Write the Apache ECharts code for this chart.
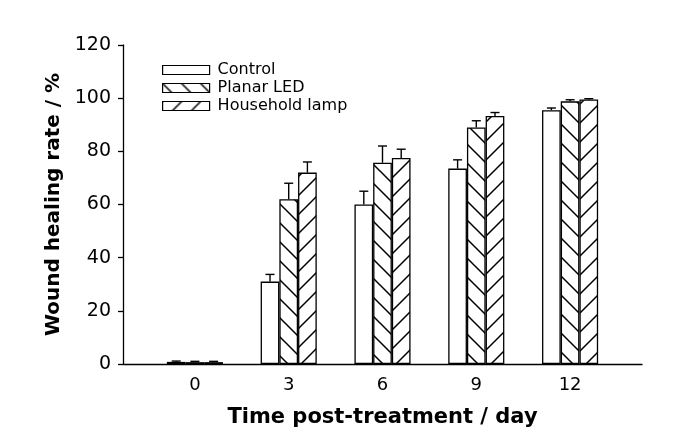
<!DOCTYPE html>
<html>
<head>
<meta charset="utf-8">
<script src="https://cdn.jsdelivr.net/npm/echarts@6/dist/echarts.min.js"></script>
<style>html,body{margin:0;padding:0;background:#fff}#c{width:679px;height:444px}</style>
</head>
<body>
<div id="c"></div>
<script>
var days = [0, 3, 6, 9, 12];
var seriesNames = ['Control', 'Planar LED', 'Household lamp'];
var control = [0.8, 31, 60, 73.5, 95.5];
var controlErr = [0.3, 2.7, 5, 3.3, 0.8];
var planar = [0.7, 62, 75.7, 89, 98.8];
var planarErr = [0.3, 6, 6.3, 2.5, 0.6];
var household = [0.7, 72, 77.5, 93.3, 99.5];
var householdErr = [0.3, 4, 3.3, 1.3, 0.3];
var yTicks = [0, 20, 40, 60, 80, 100, 120];

var FONT = 'DejaVu Sans';
var BW = 18.7;
var chart = echarts.init(document.getElementById('c'), null, {renderer: 'canvas'});

function pairs(vals) { return days.map(function (d, i) { return [d, vals[i]]; }); }
function errPairs(vals, errs) { return days.map(function (d, i) { return [d, vals[i], errs[i]]; }); }

function hatch(back) {
  var s = 19;
  var cv = document.createElement('canvas');
  cv.width = s; cv.height = s;
  var ctx = cv.getContext('2d');
  ctx.fillStyle = '#fff';
  ctx.fillRect(0, 0, s, s);
  ctx.strokeStyle = '#000';
  ctx.lineWidth = 1.5;
  ctx.beginPath();
  if (back) {
    ctx.moveTo(-2, -2); ctx.lineTo(s + 2, s + 2);
    ctx.moveTo(s - 2, -2); ctx.lineTo(s + 2, 2);
    ctx.moveTo(-2, s - 2); ctx.lineTo(2, s + 2);
  } else {
    ctx.moveTo(-2, s + 2); ctx.lineTo(s + 2, -2);
    ctx.moveTo(-2, 2); ctx.lineTo(2, -2);
    ctx.moveTo(s - 2, s + 2); ctx.lineTo(s + 2, s - 2);
  }
  ctx.stroke();
  return {image: cv, repeat: 'repeat'};
}

function barSeries(name, vals, fill) {
  return {
    name: name, type: 'bar', data: pairs(vals), barWidth: BW, barGap: '0%',
    itemStyle: {color: fill, borderColor: '#000', borderWidth: 1.3},
    emphasis: {disabled: true}, z: 2
  };
}

function errSeries(vals, errs, idx) {
  return {
    type: 'custom', data: errPairs(vals, errs), z: 3, silent: true,
    renderItem: function (params, api) {
      var x = api.value(0), y = api.value(1), e = api.value(2);
      var p0 = api.coord([x, y]);
      var p1 = api.coord([x, y + e]);
      var cx = p0[0] + (idx - 1) * BW;
      var hw = 4.5;
      return {
        type: 'group',
        children: [
          {type: 'line', shape: {x1: cx, y1: p0[1], x2: cx, y2: p1[1]}, style: {stroke: '#000', lineWidth: 1.4}},
          {type: 'line', shape: {x1: cx - hw, y1: p1[1], x2: cx + hw, y2: p1[1]}, style: {stroke: '#000', lineWidth: 1.4}}
        ]
      };
    }
  };
}

chart.setOption({
  animation: false,
  backgroundColor: '#fff',
  grid: {left: 123, right: 37, top: 45, bottom: 80, containLabel: false},
  legend: {
    orient: 'vertical', left: 157, top: 57,
    itemWidth: 47, itemHeight: 9, itemGap: 2, icon: 'rect',
    data: seriesNames,
    itemStyle: {borderColor: '#000', borderWidth: 1.2},
    textStyle: {fontFamily: FONT, fontSize: 16, color: '#000', padding: [0, 0, 0, 3]}
  },
  xAxis: {
    type: 'value', min: -2.3, max: 14.3,
    name: 'Time post-treatment / day', nameLocation: 'middle', nameGap: 43,
    nameTextStyle: {fontFamily: FONT, fontSize: 21, fontWeight: 'bold', color: '#000'},
    axisLine: {show: true, onZero: false, lineStyle: {color: '#000', width: 1.3}},
    axisTick: {show: false},
    splitLine: {show: false},
    axisLabel: {customValues: days, fontFamily: FONT, fontSize: 18, color: '#000', margin: 12}
  },
  yAxis: {
    type: 'value', min: 0, max: 120, interval: 20,
    name: 'Wound healing rate / %', nameLocation: 'middle', nameGap: 57, nameRotate: 90,
    nameTextStyle: {fontFamily: FONT, fontSize: 20, fontWeight: 'bold', color: '#000'},
    axisLine: {show: true, onZero: false, lineStyle: {color: '#000', width: 1.3}},
    axisTick: {show: true, inside: false, length: 5, lineStyle: {color: '#000', width: 1.3}},
    splitLine: {show: false},
    axisLabel: {customValues: yTicks, fontFamily: FONT, fontSize: 19, color: '#000', margin: 12}
  },
  series: [
    barSeries(seriesNames[0], control, '#fff'),
    barSeries(seriesNames[1], planar, hatch(true)),
    barSeries(seriesNames[2], household, hatch(false)),
    errSeries(control, controlErr, 0),
    errSeries(planar, planarErr, 1),
    errSeries(household, householdErr, 2)
  ]
});
</script>
</body>
</html>
